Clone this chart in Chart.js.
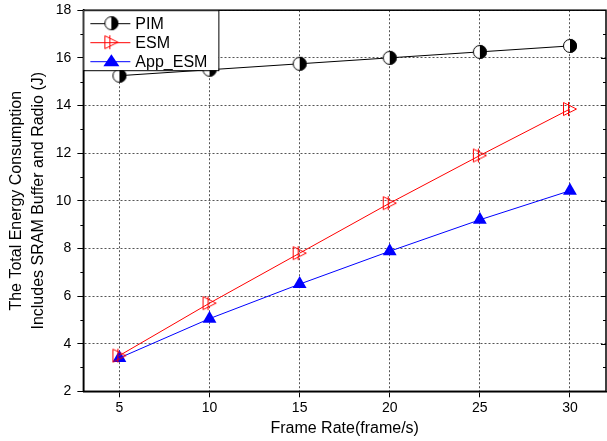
<!DOCTYPE html>
<html>
<head>
<meta charset="utf-8">
<script src="https://cdn.jsdelivr.net/npm/chart.js@4.4.1/dist/chart.umd.min.js"></script>
<style>
  body { margin: 0; background: #fff; }
  #wrap { width: 607px; height: 441px; }
</style>
</head>
<body>
<div id="wrap"><canvas id="energyChart" width="607" height="441"></canvas></div>
<script>
const frameRates = [5, 10, 15, 20, 25, 30];
const pimValues = [15.25, 15.5, 15.75, 16.0, 16.25, 16.5];
const esmValues = [3.5, 5.7, 7.8, 9.9, 11.9, 13.85];
const appEsmValues = [3.4, 5.05, 6.5, 7.88, 9.2, 10.42];
const xTicks = [5, 10, 15, 20, 25, 30];
const yTicks = [2, 4, 6, 8, 10, 12, 14, 16, 18];

const ctx = document.getElementById("energyChart").getContext("2d");
const FONT = "'Liberation Sans', Arial, sans-serif";

// half black / half white circle marker
function makeHalfCircle(r) {
  const c = document.createElement("canvas");
  c.width = c.height = r * 2 + 2;
  const g = c.getContext("2d");
  const m = r + 1;
  g.fillStyle = "#fff";
  g.beginPath();
  g.arc(m, m, r, Math.PI / 2, Math.PI * 1.5);
  g.fill();
  g.fillStyle = "#000";
  g.beginPath();
  g.arc(m, m, r, -Math.PI / 2, Math.PI / 2);
  g.fill();
  g.strokeStyle = "#000";
  g.lineWidth = 1;
  g.beginPath();
  g.arc(m, m, r - 0.5, 0, Math.PI * 2);
  g.stroke();
  return c;
}

// open right-pointing triangle with a vertical bar
function makeRightTriangle(s) {
  const c = document.createElement("canvas");
  c.width = c.height = s + 2;
  const g = c.getContext("2d");
  g.strokeStyle = "#ff0000";
  g.lineWidth = 1;
  g.beginPath();
  g.moveTo(1.5, 1.5);
  g.lineTo(s + 0.5, s / 2 + 1);
  g.lineTo(1.5, s + 0.5);
  g.closePath();
  g.stroke();
  g.beginPath();
  g.moveTo(s / 2 - 0.5, 1);
  g.lineTo(s / 2 - 0.5, s + 1);
  g.stroke();
  return c;
}

const pimMarker = makeHalfCircle(7);
const esmMarker = makeRightTriangle(14);

const toPoints = (vals) => frameRates.map((x, i) => ({ x: x, y: vals[i] }));

const legendItems = [
  { label: "PIM", color: "#000", marker: pimMarker },
  { label: "ESM", color: "#ff0000", marker: esmMarker },
  { label: "App_ESM", color: "#0000ff", marker: "tri" },
];

const framePlugin = {
  id: "framePlugin",
  afterDraw(chart) {
    const a = chart.chartArea;
    const g = chart.ctx;
    const yScale = chart.scales.y;
    g.save();
    g.strokeStyle = "#000";
    g.lineWidth = 1.5;
    g.strokeRect(a.left, a.top, a.right - a.left, a.bottom - a.top);

    // minor ticks on left, ticks on right side
    g.lineWidth = 1;
    for (let v = 2; v <= 18; v++) {
      const py = Math.round(yScale.getPixelForValue(v)) + 0.5;
      const major = v % 2 === 0;
      g.beginPath();
      if (!major) {
        g.moveTo(a.left - 3, py);
        g.lineTo(a.left, py);
      }
      g.moveTo(a.right, py);
      g.lineTo(a.right - (major ? 5 : 3), py);
      g.stroke();
    }

    // legend box
    const bx = a.left, by = a.top, bw = 135, bh = 60;
    g.fillStyle = "#fff";
    g.fillRect(bx, by, bw, bh);
    g.strokeStyle = "#000";
    g.lineWidth = 1;
    g.strokeRect(bx + 0.5, by + 0.5, bw, bh);
    g.font = "16px " + FONT;
    g.textBaseline = "middle";
    legendItems.forEach((item, i) => {
      const cy = by + 13 + i * 19;
      g.strokeStyle = item.color;
      g.beginPath();
      g.moveTo(bx + 7, cy + 0.5);
      g.lineTo(bx + 47, cy + 0.5);
      g.stroke();
      const mx = bx + 28;
      if (item.marker === "tri") {
        g.fillStyle = "#0000ff";
        g.beginPath();
        g.moveTo(mx, cy - 7);
        g.lineTo(mx + 8, cy + 5);
        g.lineTo(mx - 8, cy + 5);
        g.closePath();
        g.fill();
      } else {
        g.drawImage(item.marker, mx - item.marker.width / 2, cy - item.marker.height / 2);
      }
      g.fillStyle = "#000";
      g.fillText(item.label, bx + 52, cy + 1);
    });
    g.restore();
  },
};

new Chart(ctx, {
  type: "line",
  data: {
    datasets: [
      {
        label: "PIM",
        data: toPoints(pimValues),
        borderColor: "#000",
        borderWidth: 1,
        pointStyle: pimMarker,
        pointRadius: 7,
      },
      {
        label: "ESM",
        data: toPoints(esmValues),
        borderColor: "#ff0000",
        borderWidth: 1,
        pointStyle: esmMarker,
        pointRadius: 7,
      },
      {
        label: "App_ESM",
        data: toPoints(appEsmValues),
        borderColor: "#0000ff",
        backgroundColor: "#0000ff",
        borderWidth: 1,
        pointStyle: "triangle",
        pointRadius: 8,
        pointBorderWidth: 0,
      },
    ],
  },
  options: {
    responsive: false,
    animation: false,
    layout: {
      autoPadding: false,
      padding: { top: 0, right: 1, left: 5, bottom: 4 },
    },
    plugins: {
      legend: { display: false },
      tooltip: { enabled: false },
    },
    scales: {
      x: {
        type: "linear",
        min: 3,
        max: 32,
        afterBuildTicks: (scale) => {
          scale.ticks = xTicks.map((v) => ({ value: v }));
        },
        grid: {
          color: "#555",
          tickColor: "#000",
          tickLength: 6,
          lineWidth: 1,
        },
        border: { color: "#000", width: 1.5, dash: [2, 2] },
        ticks: {
          color: "#000",
          font: { family: FONT, size: 14, lineHeight: 1.15 },
          padding: 3,
          maxRotation: 0,
        },
        title: {
          display: true,
          text: "Frame Rate(frame/s)",
          color: "#000",
          font: { family: FONT, size: 16, lineHeight: 1.1 },
          padding: { top: 0, bottom: 0 },
        },
      },
      y: {
        min: 2,
        max: 18,
        afterBuildTicks: (scale) => {
          scale.ticks = yTicks.map((v) => ({ value: v }));
        },
        grid: {
          color: "#555",
          tickColor: "#000",
          tickLength: 6,
          lineWidth: 1,
        },
        border: { color: "#000", width: 1.5, dash: [2, 2] },
        ticks: {
          color: "#000",
          font: { family: FONT, size: 14, lineHeight: 0.6 },
          padding: 6,
        },
        title: {
          display: true,
          text: ["The Total Energy Consumption", "Includes SRAM Buffer and Radio (J)"],
          color: "#000",
          font: { family: FONT, size: 16, lineHeight: 1.4 },
          padding: { top: 0, bottom: 0 },
        },
      },
    },
  },
  plugins: [framePlugin],
});
</script>
</body>
</html>
